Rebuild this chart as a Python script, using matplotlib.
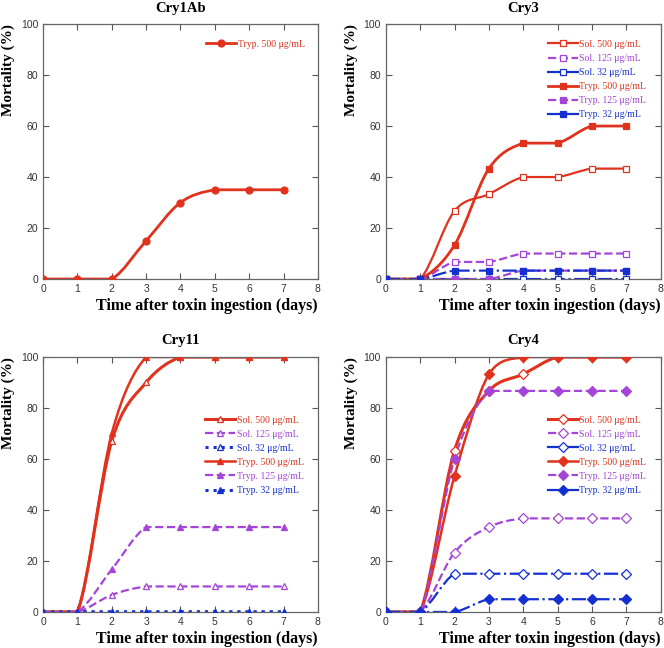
import numpy as np
import matplotlib
matplotlib.use('Agg')
import matplotlib.pyplot as plt
from matplotlib.path import Path
from matplotlib.patches import PathPatch
from matplotlib.lines import Line2D

days = [0, 1, 2, 3, 4, 5, 6, 7]

red = '#e0321c'
purple = '#a445d8'
blue = '#1530d0'

# Cry1Ab
cry1ab_tryp500 = [0, 0, 0, 15, 30, 35, 35, 35]

# Cry3
cry3_sol500 = [0, 0, 26.7, 33.3, 40, 40, 43.3, 43.3]
cry3_sol125 = [0, 0, 6.7, 6.7, 10, 10, 10, 10]
cry3_sol32 = [0, 0, 0, 0, 0, 0, 0, 0]
cry3_tryp500 = [0, 0, 13.3, 43.3, 53.3, 53.3, 60, 60]
cry3_tryp125 = [0, 0, 0, 0, 3.3, 3.3, 3.3, 3.3]
cry3_tryp32 = [0, 0, 3.3, 3.3, 3.3, 3.3, 3.3, 3.3]

# Cry11
cry11_sol500 = [0, 0, 67, 90, 100, 100, 100, 100]
cry11_sol125 = [0, 0, 6.7, 10, 10, 10, 10, 10]
cry11_sol32 = [0, 0, 0, 0, 0, 0, 0, 0]
cry11_tryp500 = [0, 0, 70, 100, 100, 100, 100, 100]
cry11_tryp125 = [0, 0, 16.7, 33.3, 33.3, 33.3, 33.3, 33.3]
cry11_tryp32 = [0, 0, 0, 0, 0, 0, 0, 0]

# Cry4
cry4_sol500 = [0, 0, 63.3, 86.7, 93.3, 100, 100, 100]
cry4_sol125 = [0, 0, 23.3, 33.3, 36.7, 36.7, 36.7, 36.7]
cry4_sol32 = [0, 0, 15, 15, 15, 15, 15, 15]
cry4_tryp500 = [0, 0, 53.3, 93.3, 100, 100, 100, 100]
cry4_tryp125 = [0, 0, 60, 86.7, 86.7, 86.7, 86.7, 86.7]
cry4_tryp32 = [0, 0, 0, 5, 5, 5, 5, 5]

labels = ['Sol. 500 \u03bcg/mL', 'Sol. 125 \u03bcg/mL', 'Sol. 32 \u03bcg/mL',
          'Tryp. 500 \u03bcg/mL', 'Tryp. 125 \u03bcg/mL', 'Tryp. 32 \u03bcg/mL']

serif = 'Liberation Serif'
sans = 'Liberation Sans'


def smooth_path(x, y):
    # cubic bezier (catmull-rom) through the points, control points clamped
    x = np.asarray(x, float)
    y = np.asarray(y, float)
    n = len(x)
    verts = [(x[0], y[0])]
    codes = [Path.MOVETO]
    for i in range(n - 1):
        p0 = max(i - 1, 0)
        p3 = min(i + 2, n - 1)
        c1x = x[i] + (x[i + 1] - x[p0]) / 6
        c1y = y[i] + (y[i + 1] - y[p0]) / 6
        c2x = x[i + 1] - (x[p3] - x[i]) / 6
        c2y = y[i + 1] - (y[p3] - y[i]) / 6
        lo, hi = min(y[i], y[i + 1]), max(y[i], y[i + 1])
        c1y = min(max(c1y, lo), hi)
        c2y = min(max(c2y, lo), hi)
        verts += [(c1x, c1y), (c2x, c2y), (x[i + 1], y[i + 1])]
        codes += [Path.CURVE4] * 3
    return Path(verts, codes)


def draw(ax, y, color, ls, lw, marker, filled):
    ax.add_patch(PathPatch(smooth_path(days, y), fill=False, edgecolor=color,
                           linestyle=ls, linewidth=lw, zorder=2))
    ax.plot(days, y, linestyle='none', marker=marker, markersize=5,
            markeredgecolor=color, markerfacecolor=color if filled else 'white',
            markeredgewidth=0.9, zorder=3)


def handle(color, ls, lw, marker, filled):
    return Line2D([], [], color=color, linestyle=ls, linewidth=lw, marker=marker,
                  markersize=5, markeredgecolor=color,
                  markerfacecolor=color if filled else 'white', markeredgewidth=0.9)


def style(ax, title):
    ax.set_xlim(0, 8)
    ax.set_ylim(0, 100)
    ax.set_xticks(range(0, 9))
    ax.set_yticks(range(0, 101, 20))
    ax.tick_params(direction='in', top=True, right=True, length=4, width=0.8,
                   colors='#555555', labelcolor='#333333', labelsize=7.5)
    for lab in ax.get_xticklabels() + ax.get_yticklabels():
        lab.set_family(sans)
    for sp in ax.spines.values():
        sp.set_color('#666666')
        sp.set_linewidth(0.9)
    ax.set_title(title, family=serif, fontweight='bold', fontsize=10.5, pad=9)
    ax.set_xlabel('Time after toxin ingestion (days)', family=serif,
                  fontweight='bold', fontsize=11.5, loc='right', labelpad=3)
    ax.set_ylabel('Mortality (%)', family=serif, fontweight='bold',
                  fontsize=11, loc='top', labelpad=4)


def legend(ax, handles, labs, anchor):
    leg = ax.legend(handles, labs, loc='upper left', bbox_to_anchor=anchor,
                    frameon=False, prop={'family': serif, 'size': 7.0},
                    handlelength=3.1, handletextpad=0.15, labelspacing=0.52,
                    borderpad=0, borderaxespad=0)
    for txt, h in zip(leg.get_texts(), handles):
        txt.set_color(h.get_color())


fig = plt.figure(figsize=(6.64, 6.48), dpi=100)
w, h = 0.414, 0.3935
ax1 = fig.add_axes([0.0648, 0.5694, w, h])
ax2 = fig.add_axes([0.581, 0.5694, w, h])
ax3 = fig.add_axes([0.0648, 0.0556, w, h])
ax4 = fig.add_axes([0.581, 0.0556, w, h])

# Cry1Ab
draw(ax1, cry1ab_tryp500, red, '-', 2.0, 'o', True)
style(ax1, 'Cry1Ab')
legend(ax1, [handle(red, '-', 2.0, 'o', True)], ['Tryp. 500 \u03bcg/mL'], (0.593, 0.938))

# Cry3
specs3 = [(cry3_sol500, red, '-', 1.6, 's', False),
          (cry3_sol125, purple, '--', 1.6, 's', False),
          (cry3_sol32, blue, '-.', 1.6, 's', False),
          (cry3_tryp500, red, '-', 2.0, 's', True),
          (cry3_tryp125, purple, '--', 1.6, 's', True),
          (cry3_tryp32, blue, '-.', 1.6, 's', True)]
for y, c, ls, lw, m, f in specs3:
    draw(ax2, y, c, ls, lw, m, f)
style(ax2, 'Cry3')
hs = [handle(c, '-' if ls == '-.' else ls, lw, m, f) for y, c, ls, lw, m, f in specs3]
legend(ax2, hs, labels, (0.589, 0.938))

# Cry11
specs11 = [(cry11_sol500, red, '-', 2.2, '^', False),
           (cry11_sol125, purple, '--', 1.6, '^', False),
           (cry11_sol32, blue, ':', 2.2, '^', False),
           (cry11_tryp500, red, '-', 1.8, '^', True),
           (cry11_tryp125, purple, '--', 1.6, '^', True),
           (cry11_tryp32, blue, ':', 2.2, '^', True)]
for y, c, ls, lw, m, f in specs11:
    draw(ax3, y, c, ls, lw, m, f)
style(ax3, 'Cry11')
hs = [handle(c, ls, lw, m, f) for y, c, ls, lw, m, f in specs11]
legend(ax3, hs, labels, (0.589, 0.77))

# Cry4
specs4 = [(cry4_sol500, red, '-', 2.2, 'D', False),
          (cry4_sol125, purple, '--', 1.6, 'D', False),
          (cry4_sol32, blue, '-.', 1.6, 'D', False),
          (cry4_tryp500, red, '-', 1.8, 'D', True),
          (cry4_tryp125, purple, '--', 1.6, 'D', True),
          (cry4_tryp32, blue, '-.', 1.6, 'D', True)]
for y, c, ls, lw, m, f in specs4:
    draw(ax4, y, c, ls, lw, m, f)
style(ax4, 'Cry4')
hs = [handle(c, '-' if ls == '-.' else ls, lw, m, f) for y, c, ls, lw, m, f in specs4]
legend(ax4, hs, labels, (0.589, 0.77))

fig.savefig('out.png', dpi=100)
